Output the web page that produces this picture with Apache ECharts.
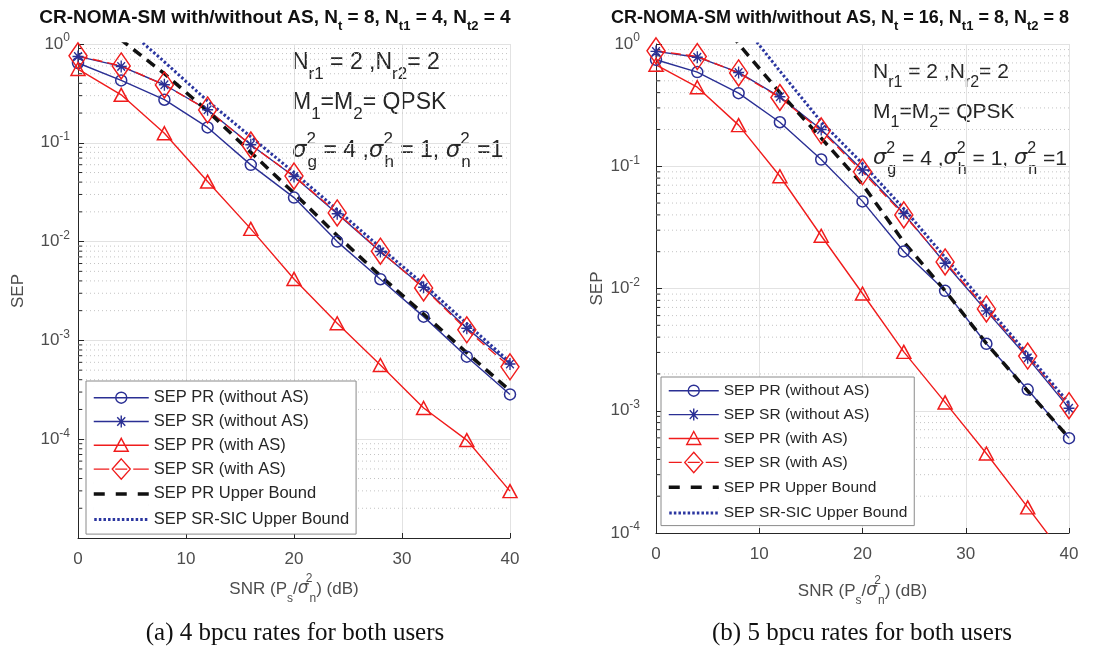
<!DOCTYPE html>
<html><head><meta charset="utf-8">
<script src="https://cdn.jsdelivr.net/npm/echarts@6/dist/echarts.min.js"></script>
<style>html,body{margin:0;padding:0;background:#fff}#c{width:1114px;height:650px}</style>
</head><body><div id="c"></div>
<script>
// ---------- data ----------
const snr = [0, 4, 8, 12, 16, 20, 24, 28, 32, 36, 40];
const xTicks = [0, 10, 20, 30, 40];
const minorMultipliers = [2, 3, 4, 5, 6, 7, 8, 9];
const seriesNames = ['SEP PR (without AS)', 'SEP SR (without AS)', 'SEP PR (with AS)', 'SEP SR (with AS)', 'SEP PR Upper Bound', 'SEP SR-SIC Upper Bound'];

// (a) Nt = 8
const prNoAS_a = [0.642, 0.428, 0.273, 0.143, 0.0598, 0.0279, 0.0100, 0.00416, 0.00174, 0.000684, 0.000284];
const srNoAS_a = [0.749, 0.593, 0.387, 0.216, 0.0955, 0.0456, 0.0191, 0.00792, 0.00345, 0.00133, 0.000577];
const prAS_a   = [0.558, 0.306, 0.125, 0.0405, 0.01345, 0.00419, 0.00149, 0.000563, 0.000207, 0.000098, 0.0000298];
const srAS_a   = [0.76, 0.60, 0.385, 0.215, 0.095, 0.046, 0.0195, 0.0080, 0.0034, 0.00128, 0.00054];
const ubPR_a   = [2.2, 1.1, 0.50, 0.21, 0.080, 0.031, 0.0115, 0.0045, 0.00185, 0.00075, 0.00031];
const ubSR_a   = [5.0, 1.6, 0.66, 0.265, 0.115, 0.050, 0.021, 0.0087, 0.0037, 0.00148, 0.00060];

// (b) Nt = 16
const prNoAS_b = [0.743, 0.589, 0.396, 0.229, 0.1135, 0.0516, 0.0201, 0.00957, 0.00353, 0.00149, 0.000597];
const srNoAS_b = [0.87, 0.78, 0.585, 0.37, 0.20, 0.093, 0.041, 0.0161, 0.00656, 0.00271, 0.00105];
const prAS_b   = [0.676, 0.443, 0.217, 0.0828, 0.027, 0.0091, 0.00303, 0.00117, 0.000447, 0.000162, 0.000058];
const srAS_b   = [0.88, 0.79, 0.58, 0.365, 0.195, 0.090, 0.040, 0.0165, 0.0068, 0.0028, 0.0011];
const ubPR_b   = [10, 3.2, 1.0, 0.40, 0.17, 0.071, 0.024, 0.0096, 0.00355, 0.00145, 0.0006];
const ubSR_b   = [12, 4.5, 1.6, 0.60, 0.231, 0.105, 0.045, 0.018, 0.0072, 0.0029, 0.00115];

// ---------- styling ----------
const SANS = 'Liberation Sans, Arial, Helvetica, sans-serif';
const SERIF = 'Liberation Serif, Times New Roman, serif';
const BLUE = '#2a2f94';
const RED = '#f01c1c';
const DOTBLUE = '#2b36a0';
const AX = '#262626';
const LBL = '#4d4d4d';
const STAR = 'path://M10 0L10 20M0 10L20 10M3 3L17 17M3 17L17 3';
const CLEAR = 'rgba(0,0,0,0)';

function pts(arr) { return snr.map((x, i) => [x, arr[i]]); }

function dataSeries(gi, sets) {
  const common = { type: 'line', xAxisIndex: gi, yAxisIndex: gi, showAllSymbol: true, clip: true, z: 5, emphasis: { disabled: true } };
  return [
    Object.assign({}, common, { name: seriesNames[0], data: pts(sets[0]), symbol: 'circle', symbolSize: 11,
      lineStyle: { color: BLUE, width: 1.4 }, itemStyle: { color: CLEAR, borderColor: BLUE, borderWidth: 1.5 } }),
    Object.assign({}, common, { name: seriesNames[1], data: pts(sets[1]), symbol: STAR, symbolSize: [11, 12],
      lineStyle: { color: BLUE, width: 1.4 }, itemStyle: { color: CLEAR, borderColor: BLUE, borderWidth: 1.4 } }),
    Object.assign({}, common, { name: seriesNames[2], data: pts(sets[2]), symbol: 'triangle', symbolSize: [14, 13],
      lineStyle: { color: RED, width: 1.4 }, itemStyle: { color: CLEAR, borderColor: RED, borderWidth: 1.5 } }),
    Object.assign({}, common, { name: seriesNames[3], data: pts(sets[3]), symbol: 'diamond', symbolSize: [18, 26],
      lineStyle: { color: RED, width: 1.4, type: [10, 5] }, itemStyle: { color: CLEAR, borderColor: RED, borderWidth: 1.5 } }),
    Object.assign({}, common, { name: seriesNames[4], data: pts(sets[4]), symbol: 'none',
      lineStyle: { color: '#111111', width: 3.5, type: [10, 7] }, itemStyle: { color: '#111111' } }),
    Object.assign({}, common, { name: seriesNames[5], data: pts(sets[5]), symbol: 'none',
      lineStyle: { color: DOTBLUE, width: 3, type: [2.5, 2.2] }, itemStyle: { color: DOTBLUE } })
  ];
}

function minorSeries(gi, minExp) {
  const d = [];
  for (let e = minExp; e < 0; e++) minorMultipliers.forEach(k => d.push([xTicks[0], k * Math.pow(10, e)]));
  return {
    type: 'custom', xAxisIndex: gi, yAxisIndex: gi, silent: true, z: 1, data: d, clip: true,
    renderItem: function (params, api) {
      const v = api.value(1);
      const a = api.coord([xTicks[0], v]);
      const b = api.coord([xTicks[xTicks.length - 1], v]);
      return { type: 'group', children: [
        { type: 'line', shape: { x1: a[0], y1: a[1], x2: b[0], y2: b[1] }, style: { stroke: '#c4c4c4', lineWidth: 1, lineDash: [1, 3] } },
        { type: 'line', shape: { x1: a[0], y1: a[1], x2: a[0] + 4, y2: a[1] }, style: { stroke: AX, lineWidth: 1 } }
      ] };
    }
  };
}

function xAxisCfg(gi, gap, margin) {
  return {
    gridIndex: gi, type: 'value', min: xTicks[0], max: xTicks[xTicks.length - 1], interval: xTicks[1] - xTicks[0],
    axisLine: { lineStyle: { color: AX, width: 1 } },
    axisTick: { inside: true, length: 5, lineStyle: { color: AX } },
    axisLabel: { fontSize: 17, color: LBL, margin: margin, fontFamily: SANS },
    splitLine: { show: true, lineStyle: { color: '#e2e2e2', width: 1 } },
    name: '{t|SNR (P}{s|s}{t|/}{g|σ}{p|2}{s|n}{t|) (dB)}', nameLocation: 'middle', nameGap: gap,
    nameTextStyle: { fontFamily: SANS, color: LBL, fontSize: 17, rich: {
      t: { fontSize: 17, color: LBL, fontFamily: SANS, lineHeight: 32 },
      s: { fontSize: 12, color: LBL, fontFamily: SANS, verticalAlign: 'bottom' },
      p: { fontSize: 12, color: LBL, fontFamily: SANS, verticalAlign: 'top', width: 1 },
      g: { fontSize: 17, color: LBL, fontFamily: 'DejaVu Sans', fontStyle: 'italic', lineHeight: 32 }
    } }
  };
}

function yAxisCfg(gi, minV, hideMinLabel, margin, gap) {
  return {
    gridIndex: gi, type: 'log', logBase: 10, min: minV, max: 1,
    axisLine: { show: true, lineStyle: { color: AX, width: 1 } },
    axisTick: { inside: true, length: 6, lineStyle: { color: AX } },
    splitLine: { show: true, lineStyle: { color: '#e2e2e2', width: 1 } },
    axisLabel: {
      margin: margin,
      formatter: function (v) {
        const e = Math.round(Math.log10(v));
        if (hideMinLabel && Math.abs(v - minV) < minV * 1e-6) return '';
        return '{b|10}{s|' + e + '}';
      },
      rich: {
        b: { fontSize: 17, color: LBL, fontFamily: SANS, lineHeight: 24 },
        s: { fontSize: 12, color: LBL, fontFamily: SANS, verticalAlign: 'top' }
      }
    },
    name: 'SEP', nameLocation: 'middle', nameGap: gap,
    nameTextStyle: { fontSize: 17, color: LBL, fontFamily: SANS }
  };
}

// legend icons (line + marker) drawn as paths inside the item box
function seg(x1, x2, y) { return 'M' + x1 + ' ' + y + 'L' + x2 + ' ' + y; }
function legendIcons(w, h) {
  const cy = h / 2, cx = w / 2;
  const corners = 'M0 0L0.01 0M' + w + ' ' + h + 'L' + (w - 0.01) + ' ' + h;
  const r = 5.5;
  const circle = seg(0, w, cy) + 'M' + (cx + r) + ' ' + cy + 'A' + r + ' ' + r + ' 0 1 1 ' + (cx - r) + ' ' + cy + 'A' + r + ' ' + r + ' 0 1 1 ' + (cx + r) + ' ' + cy;
  const star = seg(0, w, cy) + 'M' + cx + ' ' + (cy - 6) + 'L' + cx + ' ' + (cy + 6) + seg(cx - 5.5, cx + 5.5, cy) +
    'M' + (cx - 4) + ' ' + (cy - 4.3) + 'L' + (cx + 4) + ' ' + (cy + 4.3) + 'M' + (cx - 4) + ' ' + (cy + 4.3) + 'L' + (cx + 4) + ' ' + (cy - 4.3);
  const tri = seg(0, w, cy) + 'M' + cx + ' ' + (cy - 7) + 'L' + (cx + 7) + ' ' + (cy + 6) + 'L' + (cx - 7) + ' ' + (cy + 6) + 'Z';
  const dia = seg(0, cx - 12, cy) + seg(cx - 6, cx + 6, cy) + seg(cx + 12, w, cy) +
    'M' + cx + ' 0.8L' + (cx + 9) + ' ' + cy + 'L' + cx + ' ' + (h - 0.8) + 'L' + (cx - 9) + ' ' + cy + 'Z';
  let dash = '';
  for (let x = 0; x < w; x += 22) dash += seg(x, Math.min(x + 11, w), cy);
  let dot = '';
  for (let x = 0.5; x < w; x += 4.6) dot += seg(x, Math.min(x + 2.5, w), cy);
  return [circle, star, tri, dia, dash, dot].map(p => 'path://' + corners + p);
}

function legendCfg(left, top, w, fs, gap, pad) {
  const icons = legendIcons(w, 22);
  const cols = [BLUE, BLUE, RED, RED, '#111111', DOTBLUE];
  const widths = [1.4, 1.4, 1.4, 1.4, 3.5, 3];
  return {
    data: seriesNames.map((n, i) => ({ name: n, icon: icons[i], itemStyle: { color: CLEAR, borderColor: cols[i], borderWidth: widths[i] } })),
    left: left, top: top, orient: 'vertical', selectedMode: false,
    itemWidth: w, itemHeight: 22, itemGap: gap, padding: pad,
    backgroundColor: '#ffffff', borderColor: '#8a8a8a', borderWidth: 1,
    textStyle: { fontSize: fs, color: '#262626', fontFamily: SANS }
  };
}

function titleText(x, y, fs, parts) {
  return { type: 'text', x: x, y: y, silent: true, style: {
    text: parts, align: 'center', verticalAlign: 'middle',
    rich: {
      t: { fontSize: fs, fontWeight: 'bold', fontFamily: SANS, fill: '#111', lineHeight: 30 },
      s: { fontSize: Math.round(fs * 0.7), fontWeight: 'bold', fontFamily: SANS, fill: '#111', verticalAlign: 'bottom' }
    } } };
}

function annot(x, y, fs, parts) {
  const ss = Math.round(fs * 0.74);
  return { type: 'text', x: x, y: y, silent: true, style: {
    text: parts, align: 'left', verticalAlign: 'middle',
    rich: {
      t: { fontSize: fs, fontFamily: SANS, fill: '#262626', lineHeight: Math.round(fs * 1.74) },
      g: { fontSize: fs, fontFamily: 'DejaVu Sans', fontStyle: 'italic', fill: '#262626', lineHeight: Math.round(fs * 1.74) },
      s: { fontSize: ss, fontFamily: SANS, fill: '#262626', verticalAlign: 'bottom' },
      p: { fontSize: ss, fontFamily: SANS, fill: '#262626', verticalAlign: 'top', width: 1 }
    } } };
}

function caption(x, y, txt) {
  return { type: 'text', x: x, y: y, silent: true, style: {
    text: txt, align: 'center', verticalAlign: 'middle', fontSize: 25, fontFamily: SERIF, fill: '#111' } };
}

const chart = echarts.init(document.getElementById('c'), null, { renderer: 'canvas' });
const line1 = '{t|N}{s|r1}{t| = 2 ,N}{s|r2}{t|= 2}';
const line2 = '{t|M}{s|1}{t|=M}{s|2}{t|= QPSK}';
const line3 = '{g|σ}{p|2}{s|g}{t| = 4 ,}{g|σ}{p|2}{s|h}{t| = 1, }{g|σ}{p|2}{s|n}{t| =1}';

chart.setOption({
  animation: false,
  backgroundColor: '#ffffff',
  grid: [
    { left: 78, top: 44, width: 432, height: 494 },
    { left: 656, top: 44, width: 413, height: 489 }
  ],
  xAxis: [xAxisCfg(0, 35, 13), xAxisCfg(1, 42, 13)],
  yAxis: [yAxisCfg(0, 1e-5, true, 8, 51), yAxisCfg(1, 1e-4, false, 16, 50)],
  legend: [legendCfg(86, 381, 55, 16.5, 0.4, [5, 7, 2, 6]), legendCfg(661, 377, 50, 15.5, 0.5, [2, 7, 0, 6])],
  series: [].concat(
    [minorSeries(0, -5), minorSeries(1, -4)],
    dataSeries(0, [prNoAS_a, srNoAS_a, prAS_a, srAS_a, ubPR_a, ubSR_a]),
    dataSeries(1, [prNoAS_b, srNoAS_b, prAS_b, srAS_b, ubPR_b, ubSR_b])
  ),
  graphic: [
    titleText(275, 18, 19, '{t|CR-NOMA-SM with/without AS, N}{s|t}{t| = 8, N}{s|t1}{t| = 4, N}{s|t2}{t| = 4}'),
    titleText(840, 18, 18, '{t|CR-NOMA-SM with/without AS, N}{s|t}{t| = 16, N}{s|t1}{t| = 8, N}{s|t2}{t| = 8}'),
    annot(292, 63, 23, line1), annot(292, 103, 23, line2), annot(292, 151, 23, line3),
    annot(873, 72, 21, line1), annot(873, 112, 21, line2), annot(873, 159, 21, line3),
    caption(295, 633, '(a) 4 bpcu rates for both users'),
    caption(862, 633, '(b) 5 bpcu rates for both users')
  ]
});
</script>
</body></html>
